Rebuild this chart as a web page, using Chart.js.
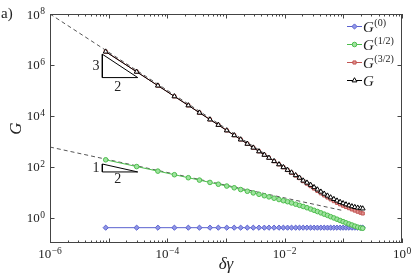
<!DOCTYPE html>
<html>
<head>
<meta charset="utf-8">
<script src="https://cdn.jsdelivr.net/npm/chart.js@4.4.1/dist/chart.umd.min.js"></script>
<style>
  html, body { margin: 0; padding: 0; background: #fff; }
  #wrap { width: 415px; height: 277px; position: relative; }
</style>
</head>
<body>
<div id="wrap"><canvas id="c" width="415" height="277"></canvas></div>
<script>
// strain increments (shared by every series)
var dgamma = [8.9e-6, 3.0e-5, 6.9e-5, 1.32e-4, 2.28e-4, 3.53e-4, 5.33e-4, 7.4e-4, 1.03e-3, 1.38e-3,
  1.78e-3, 2.31e-3, 2.92e-3, 3.65e-3, 4.5e-3, 5.4e-3, 6.6e-3, 8.0e-3, 9.5e-3, 0.0112,
  0.0131, 0.0154, 0.0179, 0.0207, 0.0240, 0.0277, 0.0317, 0.0362, 0.0414, 0.0472,
  0.0537, 0.0608, 0.0690, 0.0780, 0.0881, 0.0991, 0.111, 0.125, 0.140, 0.157,
  0.176, 0.197, 0.214];

var gZero = [0.40, 0.40, 0.40, 0.40, 0.40, 0.40, 0.40, 0.40, 0.40, 0.40,
  0.40, 0.40, 0.40, 0.40, 0.40, 0.40, 0.40, 0.40, 0.40, 0.40,
  0.40, 0.40, 0.40, 0.40, 0.40, 0.40, 0.40, 0.40, 0.40, 0.40,
  0.40, 0.40, 0.40, 0.40, 0.40, 0.40, 0.40, 0.40, 0.40, 0.40,
  0.40, 0.40, 0.40];

var gHalf = [186, 101, 66.8, 48.3, 36.8, 29.6, 24.0, 20.4, 17.3, 14.8,
  12.6, 10.8, 9.3, 8.2, 7.2, 6.5, 5.75, 5.1, 4.6, 4.2,
  3.76, 3.35, 3.02, 2.72, 2.43, 2.16, 1.93, 1.72, 1.53, 1.36,
  1.22, 1.08, 0.966, 0.861, 0.767, 0.69, 0.62, 0.56, 0.51, 0.46,
  0.42, 0.39, 0.38];

var gThreeHalf = [3.31e6, 5.35e5, 1.53e5, 5.78e4, 2.55e4, 1.32e4, 7130, 4365, 2650, 1710,
  1167, 789, 557, 398, 291, 222, 164, 123, 94.8, 73.5,
  57.5, 44.7, 35.5, 26.9, 21.4, 17.2, 13.8, 11.1, 9.0, 7.4,
  6.17, 5.19, 4.42, 3.80, 3.31, 2.92, 2.60, 2.34, 2.09, 1.88,
  1.70, 1.55, 1.45];

var gTotal = [3.31e6, 5.35e5, 1.53e5, 5.78e4, 2.55e4, 1.32e4, 7130, 4365, 2650, 1710,
  1167, 789, 557, 398, 291, 222, 164, 123, 94.8, 74.1,
  58.6, 45.9, 36.6, 28.2, 23.4, 19.1, 15.5, 12.6, 10.35, 8.6,
  7.24, 6.17, 5.31, 4.62, 4.07, 3.63, 3.27, 2.99, 2.75, 2.57,
  2.43, 2.32, 2.26];

// power-law guides
var fitX = [1e-6, 0.1];
var fitSteep = [1e8, 3.16];
var fitShallow = [590, 1.87];

// slope triangles
var triX = [7.8e-6, 7.8e-6, 3.13e-5, 7.8e-6];
var triSteepY = [2.63e6, 3.17e5, 3.17e5, 2.63e6];
var triShallowY = [127, 62, 62, 127];
var triLabels = [
  { text: '3', x: 6.1e-6, y: 8.5e5 },
  { text: '2', x: 1.43e-5, y: 1.35e5 },
  { text: '1', x: 6.1e-6, y: 89 },
  { text: '2', x: 1.43e-5, y: 31 }
];

var xTicks = [1e-6, 1e-4, 1e-2, 1];
var xTickExp = ['\u22126', '\u22124', '\u22122', '0'];
var yTicks = [1, 1e2, 1e4, 1e6, 1e8];
var yTickExp = ['0', '2', '4', '6', '8'];

var legendNames = ['(0)', '(1/2)', '(3/2)', ''];

var SERIF = '"Liberation Serif", "DejaVu Serif", serif';

function pts(xs, ys) {
  return xs.map(function(x, i) { return { x: x, y: ys[i] }; });
}

function series(label, ys, style, line, fill, radius, order) {
  return {
    label: label, data: pts(dgamma, ys), order: order,
    borderColor: line, borderWidth: 1,
    pointStyle: style, pointRadius: radius, pointBorderWidth: 1,
    pointBorderColor: line, pointBackgroundColor: fill
  };
}

function guide(xs, ys, dash, color, order) {
  return {
    label: '', data: pts(xs, ys), order: order,
    borderColor: color, borderWidth: 1, borderDash: dash,
    pointRadius: 0
  };
}

var datasets = [
  series('G0', gZero, 'rectRot', '#5a61cf', '#9197e6', 2.6, 3),
  series('G12', gHalf, 'circle', '#4dbd4d', '#9fe39f', 2.3, 2),
  series('G32', gThreeHalf, 'rect', '#c25553', '#e29592', 2.2, 1),
  series('G', gTotal, 'triangle', '#000000', '#ffffff', 2.8, 0),
  guide(fitX, fitSteep, [4, 3], '#555', 5),
  guide(fitX, fitShallow, [4, 3], '#555', 5),
  guide(triX, triSteepY, [], '#000', 4),
  guide(triX, triShallowY, [], '#000', 4)
];

// text with a raised exponent, aligned by its whole width
function supText(ctx, base, sup, x, y, align, baseFont, supFont, raise, italic) {
  ctx.font = baseFont;
  var wb = ctx.measureText(base).width;
  ctx.font = supFont;
  var ws = ctx.measureText(sup).width;
  var w = wb + ws + (sup ? 0.5 : 0);
  var left = align === 'center' ? x - w / 2 : (align === 'right' ? x - w : x);
  ctx.textAlign = 'left';
  ctx.textBaseline = 'alphabetic';
  ctx.font = baseFont;
  ctx.fillText(base, left, y);
  ctx.font = supFont;
  ctx.fillText(sup, left + wb + 0.5, y - raise);
}

var frame = {
  id: 'frame',
  afterDraw: function(chart) {
    var ctx = chart.ctx, a = chart.chartArea;
    var xs = chart.scales.x, ys = chart.scales.y;
    ctx.save();
    ctx.fillStyle = '#222';
    ctx.strokeStyle = '#444';
    ctx.lineWidth = 1;
    ctx.strokeRect(a.left + 0.5, a.top + 0.5, a.right - a.left - 1, a.bottom - a.top - 1);

    // inward ticks
    ctx.beginPath();
    for (var e = -6; e <= 0; e++) {
      for (var m = 1; m <= 9; m++) {
        var v = m * Math.pow(10, e);
        if (v > 1) break;
        var px = Math.round(xs.getPixelForValue(v)) + 0.5;
        var len = m === 1 ? 4.5 : 2.5;
        ctx.moveTo(px, a.bottom); ctx.lineTo(px, a.bottom - len);
        ctx.moveTo(px, a.top); ctx.lineTo(px, a.top + len);
      }
    }
    yTicks.forEach(function(v) {
      var py = Math.round(ys.getPixelForValue(v)) + 0.5;
      ctx.moveTo(a.left, py); ctx.lineTo(a.left + 4.5, py);
      ctx.moveTo(a.right, py); ctx.lineTo(a.right - 4.5, py);
    });
    ctx.stroke();

    // tick labels
    var base = '13px ' + SERIF, small = '9.5px ' + SERIF;
    xTicks.forEach(function(v, i) {
      supText(ctx, '10', xTickExp[i], xs.getPixelForValue(v), a.bottom + 15, 'center', base, small, 4.5);
    });
    yTicks.forEach(function(v, i) {
      supText(ctx, '10', yTickExp[i], a.left - 5, ys.getPixelForValue(v) + 4.5, 'right', base, small, 4.5);
    });

    // axis titles
    ctx.font = 'italic 17px ' + SERIF;
    ctx.textAlign = 'center';
    ctx.textBaseline = 'middle';
    ctx.fillText('\u03b4\u03b3', (a.left + a.right) / 2, 265);
    ctx.save();
    ctx.translate(17, (a.top + a.bottom) / 2);
    ctx.rotate(-Math.PI / 2);
    ctx.fillText('G', 0, 0);
    ctx.restore();

    ctx.font = '15px ' + SERIF;
    ctx.textAlign = 'left';
    ctx.fillText('a)', 1, 14);

    // slope labels
    ctx.font = '14px ' + SERIF;
    ctx.textAlign = 'center';
    triLabels.forEach(function(t) {
      ctx.fillText(t.text, xs.getPixelForValue(t.x), ys.getPixelForValue(t.y));
    });

    // legend
    for (var i = 0; i < 4; i++) {
      var ds = chart.data.datasets[i];
      var ly = 26.5 + i * 18;
      ctx.strokeStyle = ds.borderColor;
      ctx.lineWidth = 1;
      ctx.beginPath();
      ctx.moveTo(347, ly); ctx.lineTo(362, ly);
      ctx.stroke();
      ctx.fillStyle = ds.pointBackgroundColor;
      Chart.helpers.drawPoint(ctx, { pointStyle: ds.pointStyle, radius: ds.pointRadius, borderWidth: 1, rotation: 0 }, 354.5, ly);
      ctx.fillStyle = '#222';
      supText(ctx, 'G', legendNames[i], 363, ly + 5, 'left', 'italic 15px ' + SERIF, '10px ' + SERIF, 6);
    }
    ctx.restore();
  }
};

new Chart(document.getElementById('c'), {
  type: 'line',
  data: { datasets: datasets },
  options: {
    responsive: false,
    animation: false,
    events: [],
    layout: { padding: { left: 0, right: 13, top: 14, bottom: 0 } },
    plugins: { legend: { display: false }, tooltip: { enabled: false } },
    scales: {
      x: {
        type: 'logarithmic', min: 1e-6, max: 1,
        grid: { display: false }, border: { display: false },
        ticks: { display: false },
        afterFit: function(s) { s.height = 34; }
      },
      y: {
        type: 'logarithmic', min: 0.1, max: 1e8,
        grid: { display: false }, border: { display: false },
        ticks: { display: false },
        afterFit: function(s) { s.width = 50; }
      }
    }
  },
  plugins: [frame]
});
</script>
</body>
</html>
